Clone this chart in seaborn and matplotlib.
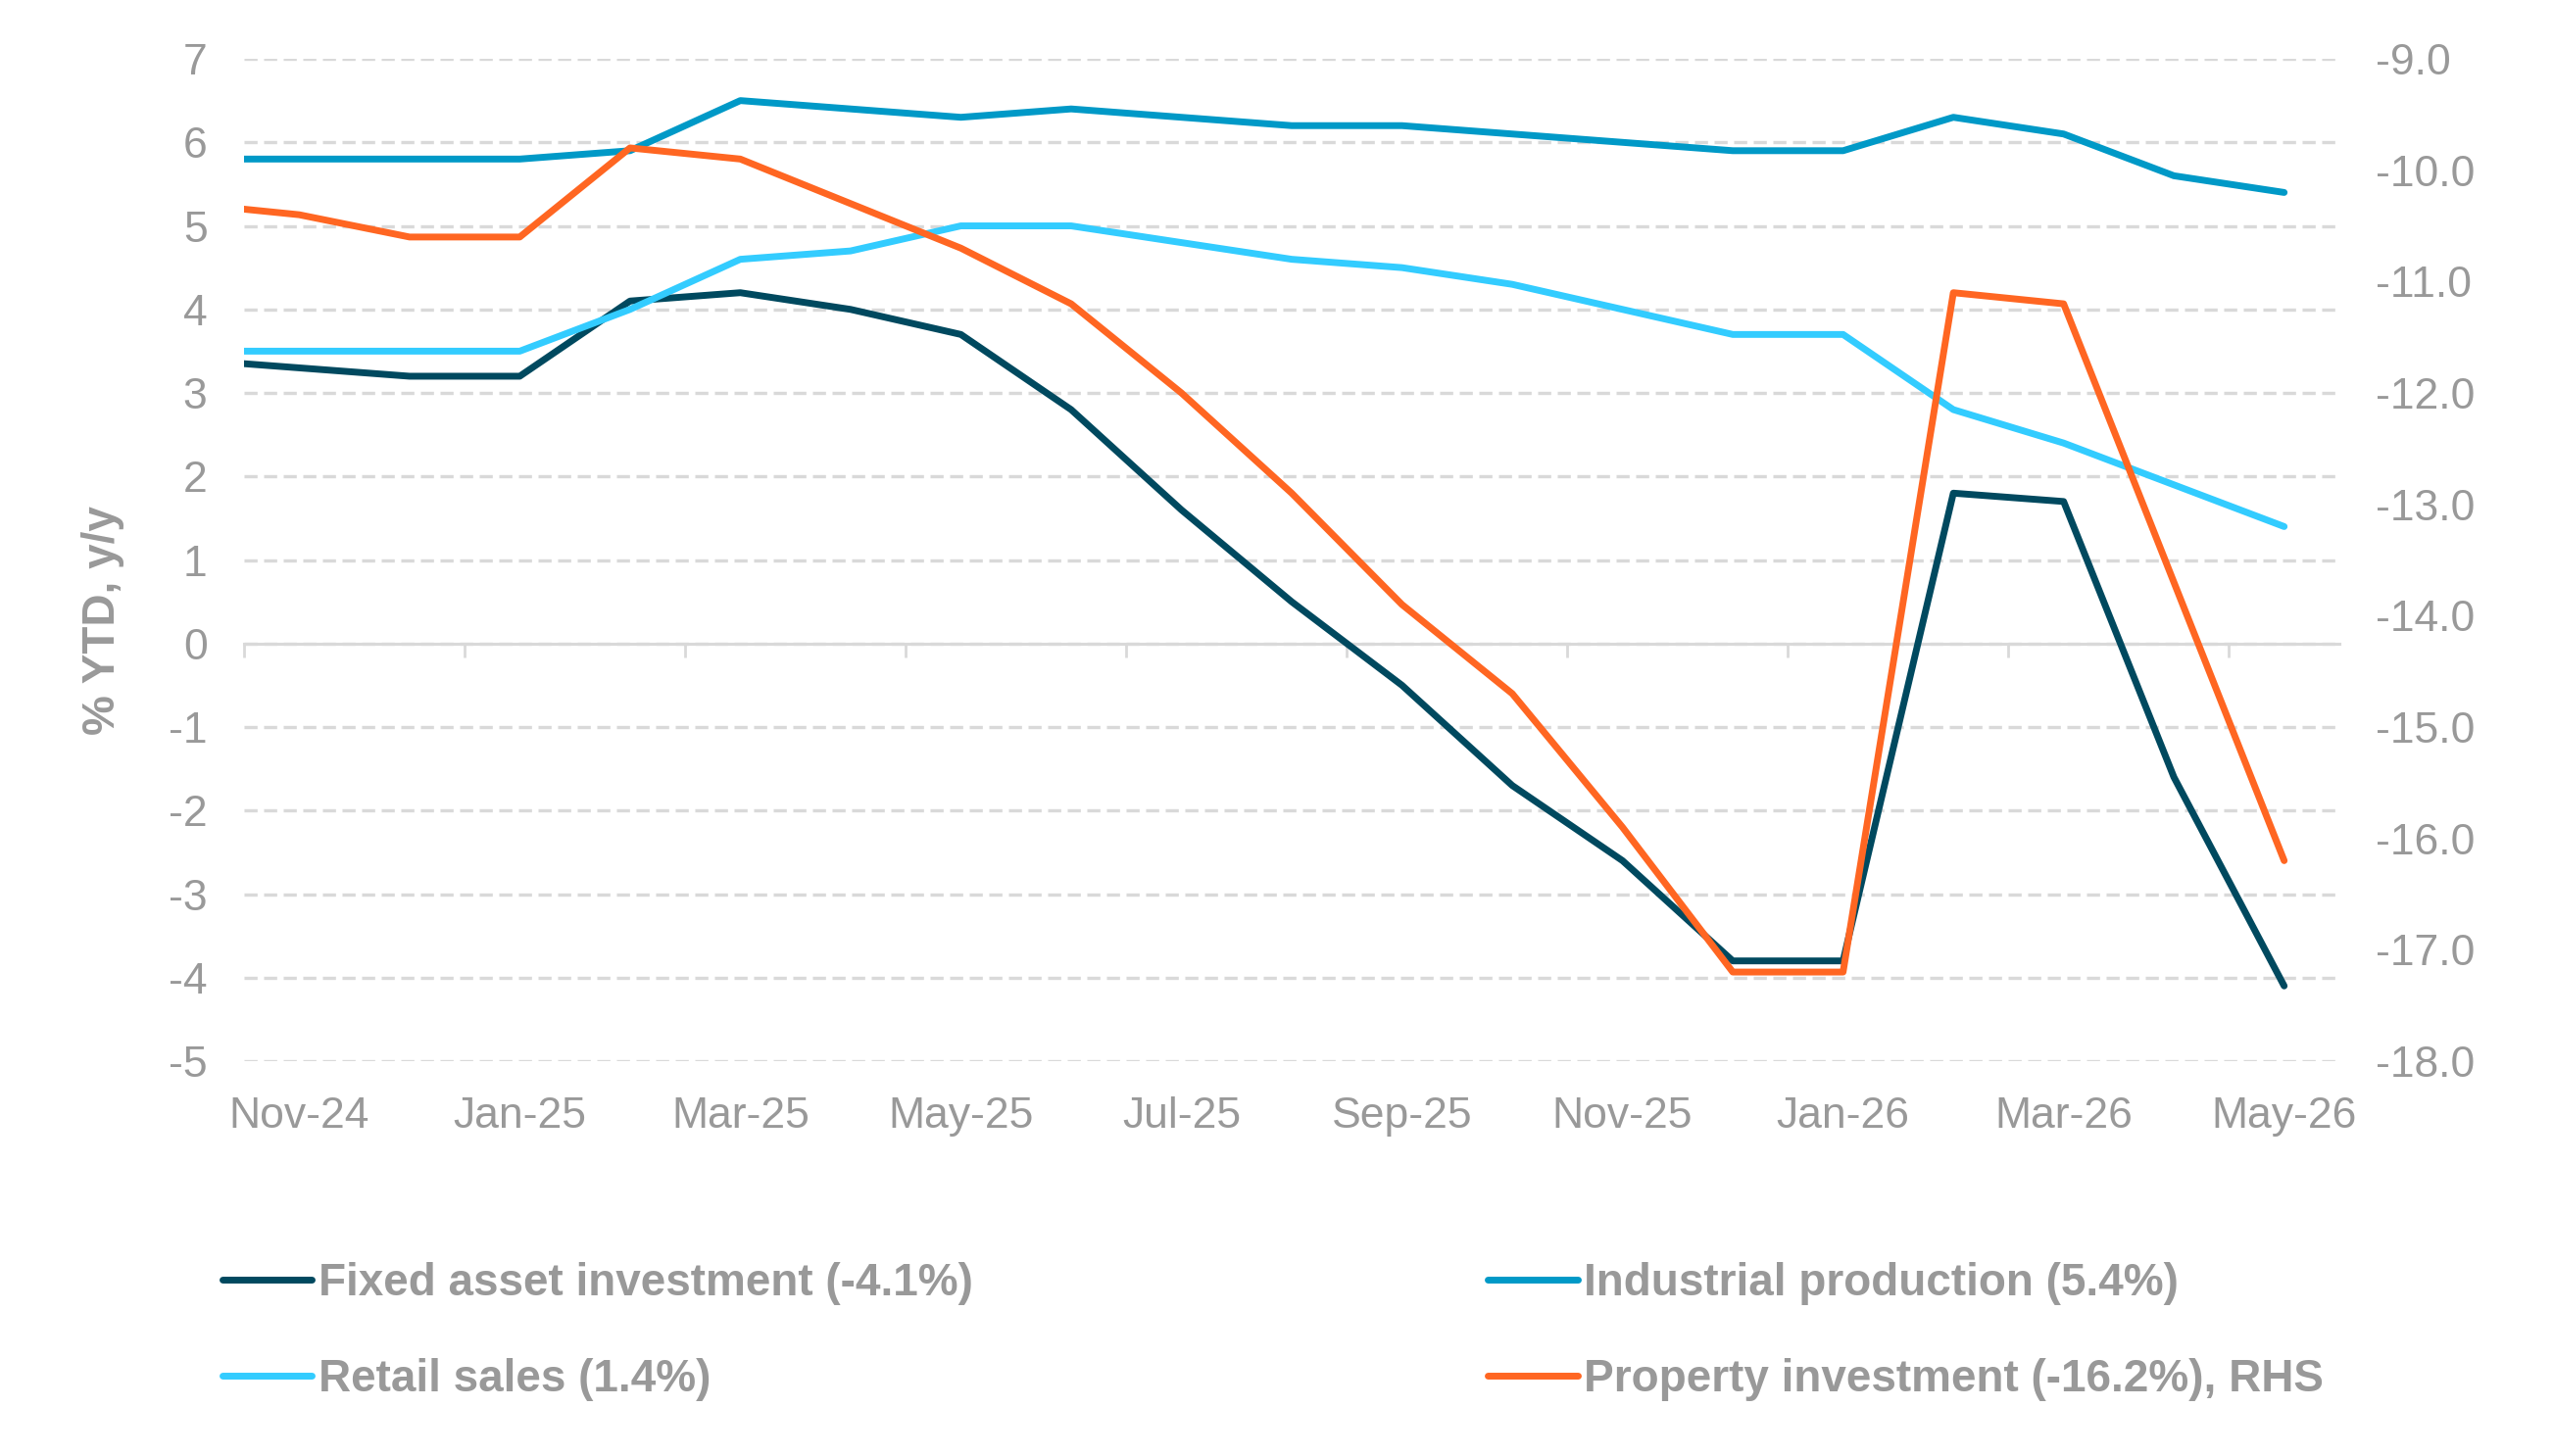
import matplotlib
matplotlib.use("Agg")
import matplotlib.pyplot as plt
from matplotlib.lines import Line2D
from matplotlib.ticker import FormatStrFormatter
import seaborn as sns
import numpy as np
import pandas as pd

# monthly data, Oct-24 is only there so the lines run to the left edge
months = ["Oct-24", "Nov-24", "Dec-24", "Jan-25", "Feb-25", "Mar-25", "Apr-25",
          "May-25", "Jun-25", "Jul-25", "Aug-25", "Sep-25", "Oct-25", "Nov-25",
          "Dec-25", "Jan-26", "Feb-26", "Mar-26", "Apr-26", "May-26"]
fixed_asset = [3.4, 3.3, 3.2, 3.2, 4.1, 4.2, 4.0, 3.7, 2.8, 1.6, 0.5, -0.5,
               -1.7, -2.6, -3.8, -3.8, 1.8, 1.7, -1.6, -4.1]
industrial = [5.8, 5.8, 5.8, 5.8, 5.9, 6.5, 6.4, 6.3, 6.4, 6.3, 6.2, 6.2,
              6.1, 6.0, 5.9, 5.9, 6.3, 6.1, 5.6, 5.4]
retail = [3.5, 3.5, 3.5, 3.5, 4.0, 4.6, 4.7, 5.0, 5.0, 4.8, 4.6, 4.5,
          4.3, 4.0, 3.7, 3.7, 2.8, 2.4, 1.9, 1.4]
property_inv = [-10.3, -10.4, -10.6, -10.6, -9.8, -9.9, -10.3, -10.7, -11.2,
                -12.0, -12.9, -13.9, -14.7, -15.9, -17.2, -17.2, -11.1, -11.2,
                -13.7, -16.2]
tick_labels = ["Nov-24", "Jan-25", "Mar-25", "May-25", "Jul-25", "Sep-25",
               "Nov-25", "Jan-26", "Mar-26", "May-26"]

names = {
    "fai": "Fixed asset investment (-4.1%)",
    "ip": "Industrial production (5.4%)",
    "rs": "Retail sales (1.4%)",
    "pi": "Property investment (-16.2%), RHS",
}
colors = {
    names["fai"]: "#00495F",
    names["ip"]: "#0099C7",
    names["rs"]: "#33CCFF",
    names["pi"]: "#FF6622",
}
GREY = "#999999"
GRID = "#D9D9D9"

sns.set_theme(style="white")
plt.rcParams["font.family"] = ["Liberation Sans", "DejaVu Sans"]
plt.rcParams["axes.unicode_minus"] = False

x = np.arange(-1, len(months) - 1)
left = pd.DataFrame({
    "x": np.tile(x, 3),
    "value": fixed_asset + industrial + retail,
    "series": [names["fai"]] * len(x) + [names["ip"]] * len(x)
    + [names["rs"]] * len(x),
})
right = pd.DataFrame({"x": x, "value": property_inv,
                      "series": names["pi"]})

fig, ax = plt.subplots(figsize=(26.05, 14.86), dpi=100)
fig.subplots_adjust(left=0.0956, right=0.9163, top=0.9596, bottom=0.2712)

line_kw = dict(linewidth=5, solid_capstyle="round", zorder=3)
sns.lineplot(data=left, x="x", y="value", hue="series", palette=colors,
             ax=ax, legend=False, **line_kw)
ax2 = ax.twinx()
sns.lineplot(data=right, x="x", y="value", hue="series", palette=colors,
             ax=ax2, legend=False, **line_kw)

ax.set_xlim(-0.5, 18.5)
ax.set_ylim(-5, 7)
ax.set_yticks(range(-5, 8))
ax2.set_ylim(-18, -9)
ax2.set_yticks(np.arange(-18, -8.5, 1.0))
ax2.yaxis.set_major_formatter(FormatStrFormatter("%.1f"))

# dashed horizontal grid, solid zero line with category boundary marks
ax.grid(False)
ax.yaxis.grid(True, color=GRID, linewidth=2.4, linestyle=(0, (4, 2)))
ax2.grid(False)
for side in ["top", "left", "right"]:
    ax.spines[side].set_visible(False)
for side in ax2.spines:
    ax2.spines[side].set_visible(False)
ax.spines["bottom"].set_position(("data", 0))
ax.spines["bottom"].set_color(GRID)
ax.spines["bottom"].set_linewidth(2.2)
ax.set_xticks(np.arange(-0.5, 18, 2))
ax.tick_params(axis="x", bottom=True, length=10, width=2, color=GRID,
               direction="out", labelbottom=False)

sec = ax.secondary_xaxis("bottom")
sec.set_xticks(range(0, 19, 2), tick_labels)
sec.tick_params(length=0, pad=26, labelsize=32, labelcolor=GREY)
sec.spines["bottom"].set_visible(False)

ax.tick_params(axis="y", left=False, length=0, pad=27, labelsize=32,
               labelcolor=GREY)
ax2.tick_params(axis="y", right=False, length=0, pad=27, labelsize=32,
                labelcolor=GREY)
ax.set_xlabel("")
ax2.set_ylabel("")
ax.set_ylabel("% YTD, y/y", fontsize=33, fontweight="bold", color=GREY)
ax.yaxis.set_label_coords(-0.057, 0.44)

order = [names["fai"], names["rs"], names["ip"], names["pi"]]
handles = [Line2D([], [], color=colors[n], linewidth=5,
                  solid_capstyle="round") for n in order]
fig.legend(handles, order, ncol=2, loc="upper left",
           bbox_to_anchor=(0.087, 0.133), frameon=False,
           prop={"size": 33, "weight": "bold"}, labelcolor=GREY,
           handlelength=2.0, handletextpad=0.15, columnspacing=11.45,
           labelspacing=1.17, borderpad=0, borderaxespad=0)

fig.savefig("out.png", dpi=100)
